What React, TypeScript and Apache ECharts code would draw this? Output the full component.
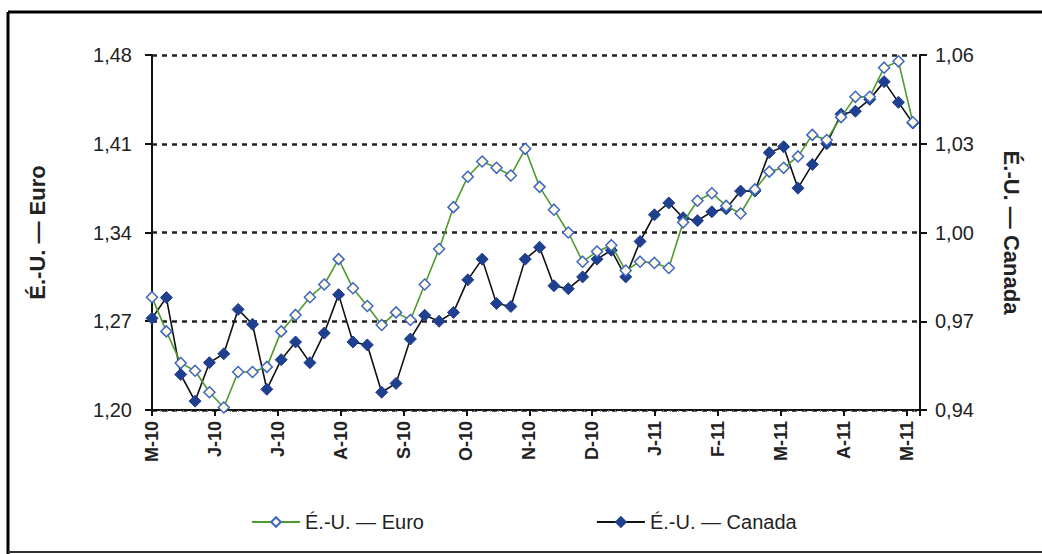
import React, { useEffect, useRef } from "react";
import * as echarts from "echarts";

const monthLabels = ["M-10", "J-10", "J-10", "A-10", "S-10", "O-10", "N-10", "D-10", "J-11", "F-11", "M-11", "A-11", "M-11"];

const euroValues = [
  1.289, 1.262, 1.237, 1.231, 1.214, 1.202, 1.230, 1.230, 1.234, 1.262,
  1.275, 1.289, 1.299, 1.319, 1.296, 1.282, 1.267, 1.277, 1.271, 1.299,
  1.327, 1.360, 1.384, 1.396, 1.391, 1.385, 1.406, 1.376, 1.358, 1.340,
  1.317, 1.325, 1.330, 1.310, 1.317, 1.316, 1.312, 1.348, 1.365, 1.371,
  1.361, 1.355, 1.374, 1.388, 1.391, 1.400, 1.417, 1.413, 1.431, 1.447,
  1.447, 1.470, 1.475, 1.427,
];

const canadaValues = [
  0.971, 0.978, 0.952, 0.943, 0.956, 0.959, 0.974, 0.969, 0.947, 0.957,
  0.963, 0.956, 0.966, 0.979, 0.963, 0.962, 0.946, 0.949, 0.964, 0.972,
  0.970, 0.973, 0.984, 0.991, 0.976, 0.975, 0.991, 0.995, 0.982, 0.981,
  0.985, 0.991, 0.994, 0.985, 0.997, 1.006, 1.010, 1.005, 1.004, 1.007,
  1.008, 1.014, 1.014, 1.027, 1.029, 1.015, 1.023, 1.030, 1.040, 1.041,
  1.045, 1.051, 1.044, 1.037,
];

const leftTicks = { min: 1.2, max: 1.48, step: 0.07 };
const rightTicks = { min: 0.94, max: 1.06, step: 0.03 };
const monthStep = 4.38; // weeks per month tick

const FONT = "Arial, 'Liberation Sans', sans-serif";

export default function App() {
  const ref = useRef<HTMLDivElement>(null);
  useEffect(() => {
    if (!ref.current) return;
    const chart = echarts.init(ref.current, null, { renderer: "svg" });
    const euroData = euroValues.map((v, i) => [i, v]);
    const canadaData = canadaValues.map((v, i) => [i, v]);
    const comma = (v: number) => v.toFixed(2).replace(".", ",");
    chart.setOption({
      animation: false,
      backgroundColor: "#fff",
      grid: { left: 152, right: 122, top: 55, bottom: 144, containLabel: false },
      legend: {
        left: 246,
        top: 507,
        itemWidth: 48,
        itemHeight: 12,
        itemGap: 172,
        textStyle: { fontFamily: FONT, fontSize: 20, color: "#222" },
        data: ["É.-U. — Euro", "É.-U. — Canada"],
      },
      xAxis: {
        type: "value",
        min: 0,
        max: 53.5,
        interval: monthStep,
        axisLine: { show: true, lineStyle: { color: "#111", width: 2 } },
        axisTick: { show: true, length: 6, lineStyle: { color: "#111", width: 2 } },
        minorTick: { show: true, splitNumber: 8, length: 2, lineStyle: { color: "#777" } },
        splitLine: { show: false },
        axisLabel: {
          rotate: 90,
          fontFamily: FONT,
          fontSize: 18,
          fontWeight: "bold",
          color: "#222",
          margin: 11,
          showMaxLabel: false,
          formatter: (v: number) => {
            const idx = Math.round(v / monthStep);
            if (Math.abs(v - idx * monthStep) < 0.01 && idx < monthLabels.length) return monthLabels[idx];
            return "";
          },
        },
      },
      yAxis: [
        {
          type: "value",
          min: leftTicks.min,
          max: leftTicks.max,
          interval: leftTicks.step,
          position: "left",
          name: "É.-U. — Euro",
          nameLocation: "middle",
          nameRotate: 90,
          nameGap: 104,
          nameTextStyle: { fontFamily: FONT, fontSize: 22, fontWeight: "bold", color: "#222" },
          axisLine: { show: true, lineStyle: { color: "#111", width: 2 } },
          axisTick: { show: true, length: 7, lineStyle: { color: "#111", width: 2 } },
          axisLabel: { fontFamily: FONT, fontSize: 20, color: "#222", margin: 20, formatter: comma },
          splitLine: { show: true, lineStyle: { color: "#222", width: 2.5, type: [5, 5] } },
        },
        {
          type: "value",
          min: rightTicks.min,
          max: rightTicks.max,
          interval: rightTicks.step,
          position: "right",
          name: "É.-U. — Canada",
          nameLocation: "middle",
          nameRotate: -90,
          nameGap: 80,
          nameTextStyle: { fontFamily: FONT, fontSize: 22, fontWeight: "bold", color: "#222" },
          axisLine: { show: true, lineStyle: { color: "#111", width: 2 } },
          axisTick: { show: true, length: 7, lineStyle: { color: "#111", width: 2 } },
          axisLabel: { fontFamily: FONT, fontSize: 20, color: "#222", margin: 15, formatter: comma },
          splitLine: { show: false },
        },
      ],
      series: [
        {
          name: "É.-U. — Euro",
          type: "line",
          yAxisIndex: 0,
          data: euroData,
          symbol: "diamond",
          symbolSize: 11,
          lineStyle: { color: "#4f9a2c", width: 1.6 },
          itemStyle: { color: "#fffbe6", borderColor: "#3d66c4", borderWidth: 1.5 },
          z: 3,
        },
        {
          name: "É.-U. — Canada",
          type: "line",
          yAxisIndex: 1,
          data: canadaData,
          symbol: "diamond",
          symbolSize: 12,
          lineStyle: { color: "#111", width: 1.6 },
          itemStyle: { color: "#1f3f8f", borderColor: "#1f3f8f", borderWidth: 1 },
          z: 2,
        },
      ],
      graphic: [
        { type: "line", shape: { x1: 8, y1: 12, x2: 1042, y2: 12 }, style: { stroke: "#000", lineWidth: 3 } },
        { type: "line", shape: { x1: 8, y1: 12, x2: 8, y2: 554 }, style: { stroke: "#000", lineWidth: 3 } },
        { type: "line", shape: { x1: 8, y1: 552, x2: 1042, y2: 552 }, style: { stroke: "#333", lineWidth: 2 } },
      ],
    });
    return () => chart.dispose();
  }, []);
  return <div ref={ref} style={{ position: "fixed", left: 0, top: 0, width: 1042, height: 554 }} />;
}
